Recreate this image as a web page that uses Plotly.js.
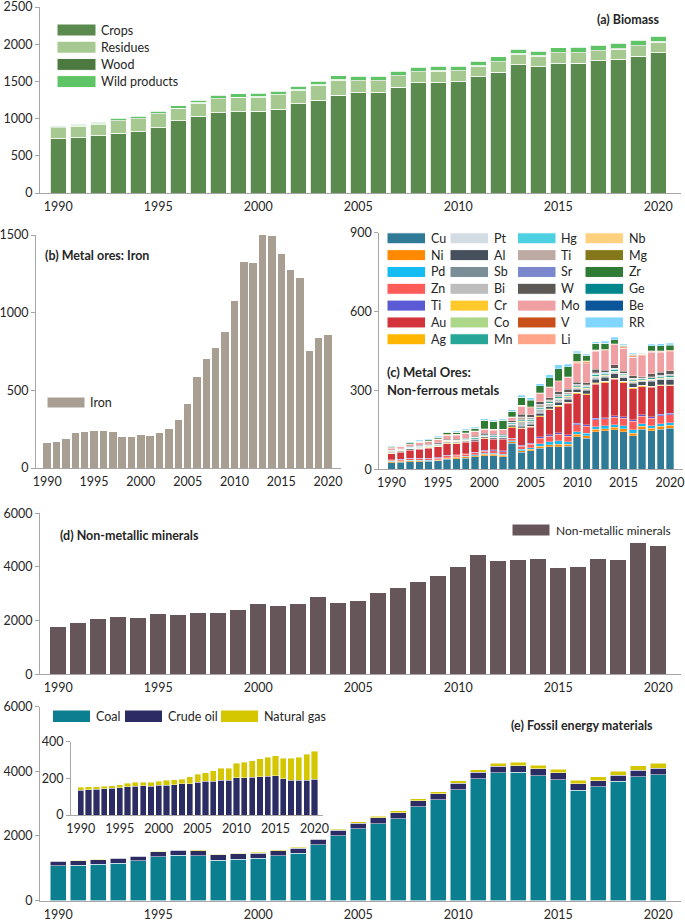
<!DOCTYPE html>
<html>
<head>
<meta charset="utf-8">
<script src="https://cdn.plot.ly/plotly-3.0.1.min.js"></script>
<style>
  body { margin: 0; background: #fff; }
  #chart { width: 685px; height: 920px; }
</style>
</head>
<body>
<div id="chart"></div>
<script>
var years = [1990,1991,1992,1993,1994,1995,1996,1997,1998,1999,2000,2001,2002,2003,2004,2005,2006,2007,2008,2009,2010,2011,2012,2013,2014,2015,2016,2017,2018,2019,2020];
var tickYears = [1990,1995,2000,2005,2010,2015,2020];

// (a) Biomass
var crops    = [730,744,771,806,820,878,968,1030,1080,1093,1098,1129,1200,1250,1313,1348,1357,1420,1483,1487,1496,1564,1626,1725,1698,1738,1747,1779,1796,1841,1886];
var residues = [148,155,153,168,179,189,168,179,190,191,192,189,182,197,205,164,153,154,149,152,147,139,139,141,141,146,139,135,139,135,138];
var wood     = [4,4,4,4,4,5,5,5,5,5,5,5,6,6,6,6,6,6,6,6,6,7,7,7,7,7,7,7,8,8,8];
var wild     = [18,20,22,25,27,30,33,36,38,42,45,48,50,52,53,50,52,55,55,57,58,60,60,58,62,62,65,68,68,72,78];

// (b) Iron
var iron = [161,167,189,225,231,240,240,234,201,201,214,208,225,253,311,411,589,699,774,876,1074,1329,1320,1515,1491,1376,1273,1221,754,838,857];

// (c) Non-ferrous metals
var cu  = [25,27,29,29,30,32,38,41,43,48,52,52,48,99,64,70,80,85,86,87,124,118,143,146,150,143,127,153,146,152,156];
var ni  = [3,3,3,3,3,3,4,4,4,4,5,5,5,5,6,6,8,9,10,8,9,9,9,9,10,11,11,10,10,11,11];
var pd  = [2,2,2,2,2,2,2,2,3,3,4,5,5,4,6,6,9,10,12,9,10,10,10,10,10,11,12,10,10,11,11];
var zn  = [5,5,6,6,6,6,7,7,8,8,8,9,9,8,12,14,21,21,25,22,27,27,27,27,28,30,33,29,29,30,30];
var ti  = [2,2,2,2,2,2,2,2,2,2,3,3,3,3,4,4,6,6,6,5,5,5,5,5,5,5,5,5,5,5,5];
var au  = [22,25,30,35,38,40,45,42,42,42,45,40,44,40,62,60,76,95,99,120,112,114,129,133,139,130,119,107,112,108,104];
var ag  = [2,2,2,2,2,2,2,2,2,2,2,2,2,3,3,3,3,3,4,4,5,4,5,4,4,4,4,4,4,3,3];
var pt  = [0.5,0.5,0.5,0.5,0.5,0.5,0.5,0.5,0.5,0.5,0.6,0.6,0.6,0.6,0.7,0.7,0.7,0.7,0.8,0.8,0.8,0.8,0.8,0.8,0.8,0.8,0.8,0.8,0.8,0.8,0.7];
var al  = [3,3,3,3,3,3,3,3,3,4,4,4,4,5,6,6,8,8,10,10,10,12,14,14,16,14,16,14,18,19,20];
var sb  = [1,1,1,1,1,1,1,1,1,1,1,1,1,2,4,3,4,3,4,3,3,3,3,3,3,2,2,2,2,2,2];
var bi  = [1,1,1,1,1,1,1,1,1,1,1,1,1,2,14,10,12,8,10,8,4,4,5,4,4,3,4,2,3,3,3];
var cr  = [1,1,1,1,1,1,1,1,1,1,1,1,1,1,2,2,2,2,2,2,2,2,2,2,2,2,2,2,2,2,2];
var co  = [0.4,0.4,0.4,0.4,0.4,0.4,0.5,0.5,0.5,0.5,0.6,0.6,0.6,0.7,0.8,0.9,1.0,1.1,1.2,1.2,1.4,1.5,1.5,1.5,1.6,1.5,1.4,1.5,1.7,1.7,1.8];
var mn  = [2,2,2,2,2,2,2,2,3,3,3,3,3,3,4,4,5,5,6,6,5,5,6,5,6,5,5,4,5,5,6];
var hg  = [0.4,0.4,0.4,0.3,0.3,0.3,0.3,0.3,0.3,0.3,0.3,0.3,0.3,0.3,0.3,0.3,0.4,0.4,0.4,0.4,0.4,0.4,0.4,0.4,0.4,0.3,0.3,0.3,0.3,0.3,0.3];
var ti2 = [1,1,1,1,1,1,1,1,1,1,1,1,1,2,10,8,10,6,8,6,3,4,5,3,4,2,3,2,3,3,4];
var sr  = [0.6,0.6,0.6,0.6,0.6,0.6,0.6,0.7,0.7,0.7,0.7,0.7,0.7,0.8,0.8,0.8,0.9,0.9,0.9,0.9,1.0,1.0,1.0,1.0,1.0,1.0,1.0,1.0,1.0,1.0,1.0];
var w   = [1,1,2,2,2,3,3,3,3,3,4,4,5,5,10,8,10,8,10,11,9,9,13,9,13,7,9,5,10,11,14];
var mo  = [8,9,9,10,11,13,16,16,18,18,16,16,16,12,30,28,30,38,38,44,69,72,70,74,76,88,70,79,83,77,72];
var v   = [0.4,0.4,0.4,0.4,0.4,0.4,0.4,0.5,0.5,0.5,0.5,0.5,0.5,0.5,0.6,0.6,0.7,0.7,0.7,0.7,0.8,0.8,0.8,0.8,0.8,0.8,0.8,0.9,0.9,0.9,0.9];
var li  = [1,1,1,1,1,1,1.5,1.5,1.5,1.5,1.5,1.5,1.5,1.5,2,2,2,2,2,2,5,6,2,2,2,4,5,3,3,3,3];
var nb  = [0.3,0.3,0.3,0.3,0.3,0.3,0.4,0.4,0.4,0.4,0.5,0.5,0.5,0.5,0.6,0.7,0.8,1.0,1.0,1.0,3.0,3.5,1.2,1.2,1.2,1.5,1.5,1.5,1.2,1.2,1.2];
var mg  = [0.5,0.5,0.5,0.5,0.5,0.5,0.5,0.5,0.5,0.5,0.5,0.5,0.5,0.5,0.6,0.6,0.6,0.6,0.6,0.6,0.7,0.7,0.7,0.7,0.7,0.7,0.7,0.7,0.7,0.7,0.7];
var zr  = [2,2,2,3,3,6,8,8,9,10,32,30,33,22,30,25,26,33,45,38,32,20,25,23,14,4,4,3,18,18,20];
var ge  = [0.2,0.2,0.2,0.2,0.2,0.2,0.2,0.2,0.2,0.2,0.2,0.2,0.2,0.2,0.3,0.3,0.3,0.3,0.3,0.3,0.3,0.3,0.3,0.3,0.3,0.3,0.3,0.3,0.3,0.3,0.3];
var be  = [0.1,0.1,0.1,0.1,0.1,0.1,0.1,0.1,0.1,0.1,0.1,0.1,0.1,0.1,0.1,0.1,0.1,0.1,0.1,0.1,0.1,0.1,0.1,0.1,0.1,0.1,0.1,0.1,0.1,0.1,0.1];
var rr  = [2.5,2.5,2.5,2.5,2.5,2.5,2.5,3.5,3.5,3.5,4.5,4.5,4.5,5.5,8,8,7,11,14,9,6,5,6,8,10,3,3,2,6,7,6];

var metalNames  = ['Cu','Ni','Pd','Zn','Ti','Au','Ag','Pt','Al','Sb','Bi','Cr','Co','Mn','Hg','Ti','Sr','W','Mo','V','Li','Nb','Mg','Zr','Ge','Be','RR'];
var metalSeries = [cu,ni,pd,zn,ti,au,ag,pt,al,sb,bi,cr,co,mn,hg,ti2,sr,w,mo,v,li,nb,mg,zr,ge,be,rr];
var metalColors = ['#2f7b97','#ff8a00','#14bcf3','#ff5b58','#5a5ad4','#d3343c','#ffb600',
                   '#d4dce3','#46505c','#7a8e97','#bdbdbd','#ffc92a','#acd688','#27a596',
                   '#4dd0e1','#bdaaa2','#7b87cd','#5c5856','#f09fa3','#c9501a','#ffa488',
                   '#ffd17f','#84781a','#2e7b33','#00868c','#0b559a','#80d6ff'];

// (d) Non-metallic minerals
var nonMetallic = [1776,1925,2074,2124,2111,2248,2223,2298,2285,2385,2608,2546,2608,2882,2658,2720,3018,3217,3453,3651,3999,4434,4235,4248,4285,3962,3999,4297,4248,4881,4782];

// (e) Fossil energy materials
var coal     = [1077,1087,1118,1159,1231,1354,1405,1385,1251,1282,1303,1385,1456,1723,2000,2215,2379,2533,2902,3118,3426,3764,3949,3969,3867,3744,3415,3518,3692,3836,3897];
var crudeOil = [136,138,140,144,145,149,155,158,160,158,162,162,164,171,171,180,184,185,189,189,202,202,206,209,211,213,198,191,191,191,196];
var natGas   = [15,15,13,14,15,15,18,22,20,22,23,27,29,25,38,42,47,57,66,66,80,85,89,98,104,109,111,118,125,140,153];

var W = 685, H = 920;
var FONT = "Lato, 'Liberation Sans', sans-serif";
var AXC = '#a6a6a6';
var TXT = '#262626';
function px(x) { return x / W; }
function py(y) { return 1 - y / H; }

function xAx(l, r, lo, hi, anchor) {
  return {domain: [px(l), px(r)], range: [lo, hi], anchor: anchor,
    showline: true, linecolor: AXC, linewidth: 1, ticks: '', tickvals: tickYears,
    tickfont: {family: FONT, size: 12.5, color: TXT}, ticklabeloverflow: 'allow',
    showgrid: false, zeroline: false, fixedrange: true, ticklabelstandoff: 2};
}
function yAx(top, bot, max, step, anchor) {
  var tv = [];
  for (var t = 0; t <= max; t += step) tv.push(t);
  return {domain: [py(bot), py(top)], range: [0, max], anchor: anchor,
    showline: true, linecolor: AXC, linewidth: 1, ticks: 'outside', ticklen: 4, tickcolor: AXC,
    tickfont: {family: FONT, size: 12.5, color: TXT}, ticklabeloverflow: 'allow',
    tickvals: tv, showgrid: false, zeroline: false, fixedrange: true, ticklabelstandoff: 0};
}

function bar(y, color, xa, ya, line) {
  return {type: 'bar', x: years, y: y, xaxis: xa, yaxis: ya, width: 0.8,
    marker: {color: color, line: line || {width: 0}}, hoverinfo: 'skip'};
}

var data = [];
var whiteLine = {color: '#ffffff', width: 0.8};
data.push(bar(crops, '#5b8a4f', 'x', 'y', whiteLine));
data.push(bar(residues, '#a5c990', 'x', 'y', whiteLine));
data.push(bar(wood, '#4b793f', 'x', 'y', {width: 0}));
data.push(bar(wild, '#5fc466', 'x', 'y', whiteLine));

data.push(bar(iron, '#a99e92', 'x2', 'y2'));

for (var i = 0; i < metalSeries.length; i++) {
  data.push(bar(metalSeries[i], metalColors[i], 'x3', 'y3', {color: '#ffffff', width: 0.3}));
}

data.push(bar(nonMetallic, '#665659', 'x4', 'y4'));

var fossilColors = ['#0b7f8f', '#2b2c63', '#d4c700'];
data.push(bar(coal, fossilColors[0], 'x5', 'y5', {color: '#ffffff', width: 0.5}));
data.push(bar(crudeOil, fossilColors[1], 'x5', 'y5', {color: '#ffffff', width: 0.5}));
data.push(bar(natGas, fossilColors[2], 'x5', 'y5', {color: '#ffffff', width: 0.5}));
data.push(bar(crudeOil, fossilColors[1], 'x6', 'y6', {color: '#ffffff', width: 0.4}));
data.push(bar(natGas, fossilColors[2], 'x6', 'y6', {color: '#ffffff', width: 0.4}));

var shapes = [];
var annotations = [];
function swatch(x0, x1, y0, y1, color) {
  shapes.push({type: 'rect', xref: 'paper', yref: 'paper', x0: px(x0), x1: px(x1), y0: py(y1), y1: py(y0),
    fillcolor: color, line: {color: '#ffffff', width: 1}, layer: 'above'});
}
function label(x, y, text, anchor, size) {
  annotations.push({xref: 'paper', yref: 'paper', x: px(x), y: py(y), text: text, showarrow: false,
    xanchor: anchor || 'left', yanchor: 'middle', font: {family: FONT, size: size || 12.5, color: TXT}});
}

// legend (a)
var bioNames = ['Crops', 'Residues', 'Wood', 'Wild products'];
var bioColors = ['#5b8a4f', '#a5c990', '#4b793f', '#5fc466'];
for (var k = 0; k < bioNames.length; k++) {
  var cy = 30 + k * 17.2;
  swatch(57, 96, cy - 6, cy + 6, bioColors[k]);
  label(99, cy, bioNames[k]);
}
// legend (b)
swatch(47, 85, 397, 408, '#a99e92');
label(88, 402.5, 'Iron');
// legend (c)
var colX = [387, 450, 517.5, 585];
for (var m = 0; m < metalNames.length; m++) {
  var col = Math.floor(m / 7), row = m % 7;
  var ry = 238.3 + row * 16.83;
  swatch(colX[col], colX[col] + 38.5, ry - 5.5, ry + 5.5, metalColors[m]);
  label(colX[col] + 41.5, ry, metalNames[m]);
}
// legend (d)
swatch(512, 550, 524, 536, '#665659');
label(553.5, 530, 'Non-metallic minerals', 'left', 12);
// legend (e)
var fossilNames = ['Coal', 'Crude oil', 'Natural gas'];
var fossilX = [52.5, 124.5, 220.5];
for (var f = 0; f < 3; f++) {
  swatch(fossilX[f], fossilX[f] + 38, 710, 722.5, fossilColors[f]);
  label(fossilX[f] + 41.5, 716.3, fossilNames[f]);
}

// panel titles
label(662, 20, '<b>(a) Biomass</b>', 'right');
label(43, 255, '<b>(b) Metal ores: Iron</b>');
label(385, 371.7, '<b>(c) Metal Ores:</b>', 'left', 13);
label(385, 390, '<b>Non-ferrous metals</b>', 'left', 13);
label(58, 535.7, '<b>(d) Non-metallic minerals</b>');
label(655, 725.7, '<b>(e) Fossil energy materials</b>', 'right');

var layout = {
  width: W, height: H,
  margin: {l: 0, r: 0, t: 0, b: 0},
  paper_bgcolor: '#ffffff', plot_bgcolor: 'rgba(0,0,0,0)',
  barmode: 'stack', showlegend: false,
  font: {family: FONT, size: 12.5, color: TXT},
  xaxis:  xAx(40, 681, 1989.085, 2021.135, 'y'),
  yaxis:  yAx(7, 193, 2500, 500, 'x'),
  xaxis2: xAx(36, 341, 1988.8, 2021.38, 'y2'),
  yaxis2: yAx(235, 468, 1500, 500, 'x2'),
  xaxis3: xAx(379.3, 683, 1988.69, 2021.4, 'y3'),
  yaxis3: yAx(232.7, 469.3, 900, 300, 'x3'),
  xaxis4: xAx(40, 681, 1989.085, 2021.135, 'y4'),
  yaxis4: yAx(513.3, 674.3, 6000, 2000, 'x4'),
  xaxis5: xAx(40, 681, 1989.085, 2021.135, 'y5'),
  yaxis5: yAx(706.7, 900.5, 6000, 2000, 'x5'),
  xaxis6: xAx(71, 323, 1988.74, 2021.1, 'y6'),
  yaxis6: yAx(741.7, 815, 400, 200, 'x6'),
  shapes: shapes,
  annotations: annotations
};

Plotly.newPlot('chart', data, layout, {staticPlot: true, displayModeBar: false});
</script>
</body>
</html>
